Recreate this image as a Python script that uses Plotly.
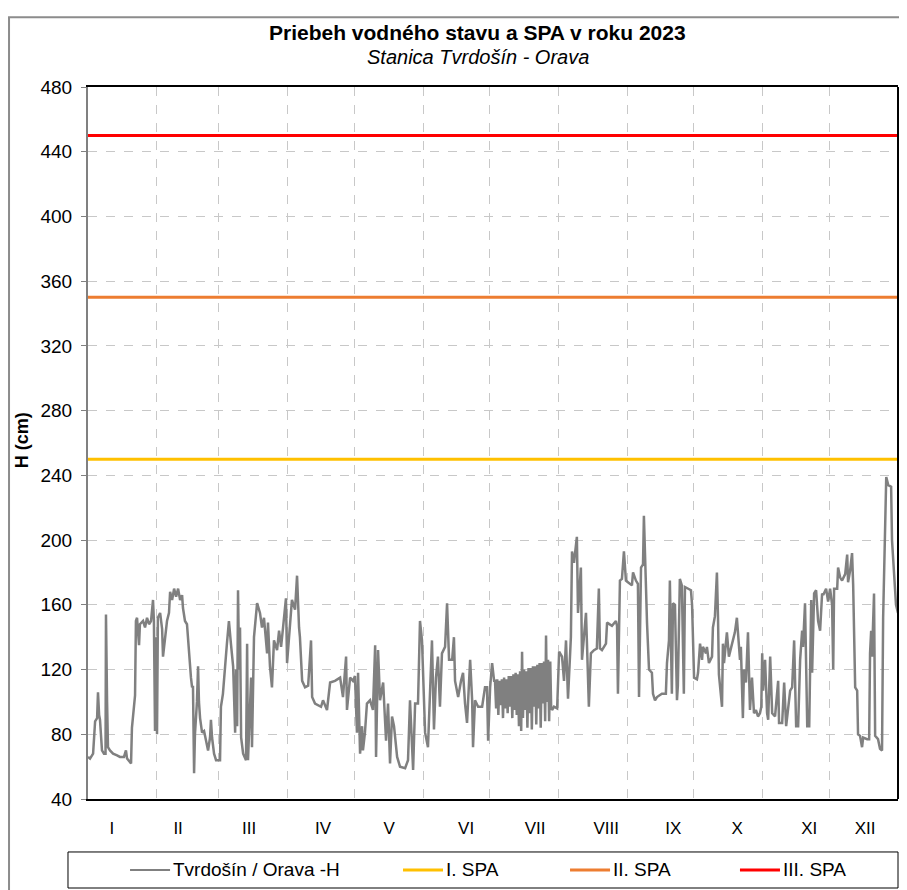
import numpy as np
import plotly.graph_objects as go

# water level H (cm), station Tvrdošín - Orava, 2023; x = day of year
# --- I + II ---
DAY_JAN = [0.0, 0.9, 2.3, 3.2, 4.1, 4.5, 5.0, 5.4, 6.3, 7.2, 7.9, 8.1, 8.6, 9.0, 9.9, 11.3, 13.1, 14.4, 16.2, 17.1,
           17.6, 18.9, 19.4, 19.8, 20.7, 21.2, 21.6, 22.1, 22.5, 23.0, 23.4, 24.8, 25.7, 26.6, 27.5, 28.4, 29.3, 29.7, 30.2, 30.6]
H_JAN = [66, 65, 68, 88, 90, 106, 92, 89, 70, 68, 68, 154, 100, 72, 70, 68, 67, 66, 66, 70,
         65, 63, 62, 84, 100, 104, 150, 152, 144, 135, 148, 150, 146, 152, 148, 150, 163, 150, 82, 140]
DAY_FEB = [31.1, 31.5, 32.5, 33.4, 33.8, 34.7, 35.6, 36.5, 37.0, 37.9, 38.8, 39.7, 40.6, 41.5, 42.4, 42.8, 43.7, 44.6, 45.5,
           46.4, 46.9, 47.3, 47.8, 48.2, 49.1, 49.6, 50.0, 50.5, 51.4, 52.3, 53.2, 54.1, 55.0, 55.4, 55.9, 56.8, 57.7, 59.0]
H_FEB = [80, 152, 155, 145, 128, 140, 150, 155, 168, 163, 170, 165, 170, 163, 166, 158, 150, 148, 130,
         115, 109, 110, 56, 80, 100, 122, 100, 90, 81, 82, 76, 70, 78, 89, 78, 68, 64, 64]
# --- III + IV ---
DAY_MAR = [59.5, 59.9, 60.8, 62.6, 63.5, 64.4, 65.4, 66.3, 66.7, 67.2, 67.6, 68.1, 68.5, 69.0, 69.9, 71.2, 71.7, 72.1,
           73.5, 73.9, 74.8, 76.2, 77.5, 78.4, 79.3, 80.7, 81.1, 82.0, 82.9, 83.8, 85.2, 86.1, 87.0, 87.9, 89.2]
H_MAR = [64, 97, 105, 136, 150, 136, 122, 81, 120, 85, 169, 120, 146, 78, 68, 64, 136, 64,
         115, 72, 140, 161, 155, 146, 152, 130, 149, 122, 109, 138, 132, 144, 134, 146, 164]
DAY_APR = [89.7, 90.6, 91.9, 93.3, 94.2, 95.1, 95.5, 96.5, 97.8, 99.2, 100.5, 101.0, 102.3, 105.0, 105.9, 107.7,
           109.1, 111.3, 113.6, 114.9, 116.3, 116.7, 118.1, 119.4, 120.3]
H_APR = [124, 140, 163, 157, 178, 146, 140, 113, 109, 110, 138, 103, 99, 97, 101, 95,
         112, 113, 115, 103, 128, 95, 115, 113, 116]
# --- V + VI ---
DAY_MAY = [121.2, 121.7, 122.6, 123.5, 123.9, 124.8, 125.7, 127.1, 128.4, 129.4, 129.8, 130.7, 131.6, 133.0, 134.3,
           135.2, 136.1, 137.0, 137.9, 139.3, 140.6, 142.9, 144.2, 145.1, 146.5, 147.4, 148.7, 149.6]
H_MAY = [81, 118, 68, 85, 70, 81, 99, 101, 95, 135, 66, 132, 101, 112, 76,
         99, 62, 91, 85, 66, 60, 59, 64, 101, 58, 99, 99, 150]
DAY_JUN = [150.5, 151.0, 151.9, 153.2, 154.6, 155.0, 155.9, 156.8, 157.7, 158.6, 159.5, 160.9, 161.8, 162.7, 164.1,
           164.9, 165.4, 166.8, 168.1, 169.0, 169.9, 170.8, 172.2, 173.1, 173.5, 174.4, 175.8, 177.6, 178.9, 179.8,
           180.3, 181.2, 182.1, 183.0]
H_JUN = [138, 115, 81, 72, 126, 138, 83, 115, 128, 97, 130, 134, 161, 126, 126,
         140, 113, 103, 113, 118, 99, 87, 126, 101, 72, 101, 97, 97, 109, 109,
         76, 109, 124, 113]
# --- VII + VIII ---
DAY_JUL = [183.4, 183.9, 184.4, 184.9, 185.4, 186.0, 186.5, 187.0, 187.5, 188.0, 188.6, 189.1, 189.6, 190.1, 190.6,
           191.2, 191.7, 192.2, 192.7, 193.2, 193.7, 194.2, 194.7, 195.2, 195.6, 196.0, 196.5, 197.0, 197.5, 198.0,
           198.5, 199.0, 199.5, 200.0, 200.5, 201.0, 201.5, 202.0, 202.5, 203.0, 203.5, 204.0, 204.5, 205.0, 205.5,
           206.0, 206.4, 206.8, 207.3, 207.8, 208.3, 208.7, 209.1, 210.0, 211.4]
H_JUL = [113, 96, 114, 92, 113, 98, 114, 90, 115, 96, 114, 93, 116, 97, 116,
         90, 117, 95, 118, 92, 117, 85, 119, 82, 131, 90, 120, 95, 119, 84,
         121, 93, 121, 83, 122, 97, 122, 86, 123, 96, 124, 84, 124, 99, 125,
         88, 141, 100, 126, 88, 125, 97, 95, 97, 96]
DAY_AUG = [212.3, 213.6, 214.5, 215.4, 216.3, 217.6, 218.1, 219.0, 220.3, 220.8, 222.1, 222.6, 224.4, 224.8, 225.7,
           226.6, 228.0, 229.3, 230.2, 230.7, 231.6, 233.4, 233.9, 236.1, 237.9, 238.4, 238.8, 239.7, 240.6, 241.5, 242.4]
H_AUG = [131, 128, 113, 138, 102, 140, 193, 186, 202, 155, 183, 126, 155, 138, 97,
         130, 132, 133, 170, 133, 132, 136, 149, 147, 150, 147, 105, 175, 176, 193, 175]
# --- IX + X ---
DAY_SEP = [243.3, 245.1, 245.6, 246.9, 247.8, 248.3, 249.2, 250.1, 250.5, 251.0, 251.9, 252.8, 254.1, 254.6, 255.5,
           256.4, 258.6, 260.4, 260.9, 261.8, 262.2, 263.1, 263.6, 264.5, 265.4, 265.8, 266.7, 267.6, 268.5, 269.0,
           270.3, 271.7, 272.2]
H_SEP = [174, 172, 180, 175, 173, 103, 183, 185, 215, 185, 149, 120, 118, 105, 101,
         103, 105, 105, 124, 138, 175, 105, 161, 160, 101, 110, 176, 172, 105, 171,
         170, 169, 160]
DAY_OCT = [272.6, 273.1, 274.4, 274.9, 275.8, 276.7, 277.1, 278.5, 278.9, 279.8, 281.2, 281.6, 282.5, 283.4, 283.9,
           284.3, 285.7, 286.1, 286.6, 287.5, 287.9, 288.8, 290.2, 291.5, 292.4, 292.9, 293.8, 294.2, 295.1, 295.6,
           296.5, 297.4, 298.3, 299.2, 300.1, 301.0, 301.9, 302.8, 303.4]
H_OCT = [134, 115, 114, 118, 136, 126, 134, 130, 134, 124, 128, 146, 153, 180, 152,
         117, 97, 136, 124, 136, 143, 128, 136, 143, 152, 141, 126, 134, 90, 120,
         112, 143, 95, 115, 93, 95, 91, 93, 97]
# --- XI + XII ---
DAY_NOV = [303.8, 304.2, 305.1, 306.0, 306.5, 307.4, 308.3, 309.6, 311.0, 311.4, 312.8, 313.7, 314.6, 315.5, 316.4,
           317.3, 317.7, 318.2, 319.1, 320.0, 320.9, 321.8, 322.2, 323.1, 324.1, 325.0, 325.9, 326.3, 327.2, 328.1,
           329.0, 329.9, 330.8, 331.3, 332.6, 333.5]
H_NOV = [130, 107, 126, 93, 89, 128, 93, 91, 113, 87, 87, 112, 85, 97, 107,
         109, 126, 138, 85, 85, 126, 144, 134, 161, 85, 85, 163, 118, 167, 169,
         150, 144, 167, 166, 170, 162]
DAY_DEC = [334.4, 335.3, 335.8, 336.2, 337.6, 338.0, 338.9, 339.8, 341.2, 342.1, 342.5, 343.4, 344.3, 344.8, 345.7,
           346.6, 347.0, 347.9, 348.8, 349.3, 351.1, 352.0, 352.4, 352.9, 353.3, 354.2, 354.7, 356.0, 356.9, 357.8,
           358.3, 359.2, 359.7, 360.6, 361.9, 362.3, 363.2, 364.1, 365.0]
H_DEC = [170, 160, 120, 170, 170, 183, 177, 175, 179, 191, 174, 181, 192, 172, 109,
         107, 80, 79, 72, 78, 77, 77, 130, 144, 128, 167, 79, 77, 71, 70,
         152, 211, 239, 234, 233, 200, 182, 160, 155]

SPA_NAMES = ["I. SPA", "II. SPA", "III. SPA"]
SPA_LEVELS = [250, 350, 450]
SPA_COLORS = ["#FFC000", "#ED7D31", "#FF0000"]

MONTH_LABELS = ["I", "II", "III", "IV", "V", "VI", "VII", "VIII", "IX", "X", "XI", "XII"]
MONTH_LENGTHS = [31, 28, 31, 30, 31, 30, 31, 31, 30, 31, 30, 31]
LABEL_DAYS = [10.8, 40.6, 72.6, 105.9, 135.7, 170.4, 201.5, 233.5, 263.7, 292.5, 325.0, 350.2]

days = sum([DAY_JAN, DAY_FEB, DAY_MAR, DAY_APR, DAY_MAY, DAY_JUN,
            DAY_JUL, DAY_AUG, DAY_SEP, DAY_OCT, DAY_NOV, DAY_DEC], [])
levels = sum([H_JAN, H_FEB, H_MAR, H_APR, H_MAY, H_JUN,
              H_JUL, H_AUG, H_SEP, H_OCT, H_NOV, H_DEC], [])
assert len(days) == len(levels)

month_starts = np.cumsum(MONTH_LENGTHS)[:-1].tolist()
year_end = sum(MONTH_LENGTHS)

FONT = "Liberation Sans, Arial, sans-serif"
LINE_GREY = "#808080"

fig = go.Figure()
fig.add_trace(go.Scatter(x=days, y=levels, mode="lines", name="Tvrdošín / Orava -H",
                         line=dict(color=LINE_GREY, width=2.5), showlegend=False))
for name, lvl, col in zip(SPA_NAMES, SPA_LEVELS, SPA_COLORS):
    fig.add_trace(go.Scatter(x=[0, year_end], y=[lvl, lvl], mode="lines", name=name,
                             line=dict(color=col, width=3), showlegend=False))

fig.update_xaxes(
    range=[0, year_end], tickmode="array", tickvals=LABEL_DAYS, ticktext=MONTH_LABELS,
    showgrid=False, zeroline=False, ticks="", ticklabelstandoff=13,
    showline=True, linecolor="black", linewidth=2, mirror=True,
    tickfont=dict(family=FONT, size=17, color="black"),
    minor=dict(tickmode="array", tickvals=month_starts, showgrid=True,
               gridcolor="#C8C8C8", griddash="dash", gridwidth=1, ticks=""),
)
fig.update_yaxes(
    range=[40, 480], dtick=40, tick0=40, zeroline=False,
    showgrid=True, gridcolor="#C8C8C8", griddash="dash", gridwidth=1,
    showline=True, linecolor=LINE_GREY, linewidth=2,
    ticks="outside", ticklen=5, tickcolor=LINE_GREY, ticklabelstandoff=5,
    tickfont=dict(family=FONT, size=19, color="black"),
)

# plot area right edge and outer chart frame
fig.add_shape(type="line", xref="paper", yref="paper", x0=1, x1=1, y0=0, y1=1,
              line=dict(color="black", width=2))
fig.add_shape(type="rect", xref="paper", yref="paper", x0=-0.0975, x1=1.0086, y0=-0.16, y1=1.098,
              line=dict(color="#8C8C8C", width=2), layer="below")

# legend row drawn by hand to keep Excel-like spacing
fig.add_shape(type="rect", xref="paper", yref="paper", x0=-0.0247, x1=1.0, y0=-0.125, y1=-0.0744,
              line=dict(color="black", width=1))
legend_names = ["Tvrdošín / Orava -H"] + SPA_NAMES
legend_colors = [LINE_GREY] + SPA_COLORS
legend_x = [0.0519, 0.3889, 0.5951, 0.8049]
for nm, col, lx in zip(legend_names, legend_colors, legend_x):
    fig.add_shape(type="line", xref="paper", yref="paper", x0=lx, x1=lx + 0.0494,
                  y0=-0.0997, y1=-0.0997, line=dict(color=col, width=2 if col == LINE_GREY else 3))
    fig.add_annotation(x=lx + 0.0506, y=-0.0997, xref="paper", yref="paper", text=nm,
                       showarrow=False, xanchor="left", yanchor="middle",
                       font=dict(family=FONT, size=19, color="black"))

fig.add_annotation(x=0.481, y=1.077, xref="paper", yref="paper", showarrow=False,
                   xanchor="center", yanchor="middle",
                   text="<b>Priebeh vodného stavu a SPA v roku 2023</b>",
                   font=dict(family=FONT, size=21, color="black"))
fig.add_annotation(x=0.481, y=1.042, xref="paper", yref="paper", showarrow=False,
                   xanchor="center", yanchor="middle",
                   text="<i>Stanica Tvrdošín - Orava</i>",
                   font=dict(family=FONT, size=20, color="black"))
fig.add_annotation(x=-0.0815, y=0.504, xref="paper", yref="paper", showarrow=False,
                   xanchor="center", yanchor="middle",
                   text="<b>H (cm)</b>", textangle=-90,
                   font=dict(family=FONT, size=18, color="black"))

# page body adds an 8px offset, so the figure is 8px smaller and margins shifted
fig.update_layout(
    width=899, height=882,
    margin=dict(l=80, r=9, t=79, b=91),
    paper_bgcolor="white", plot_bgcolor="white",
    showlegend=False,
)

fig.write_html("out.html")
